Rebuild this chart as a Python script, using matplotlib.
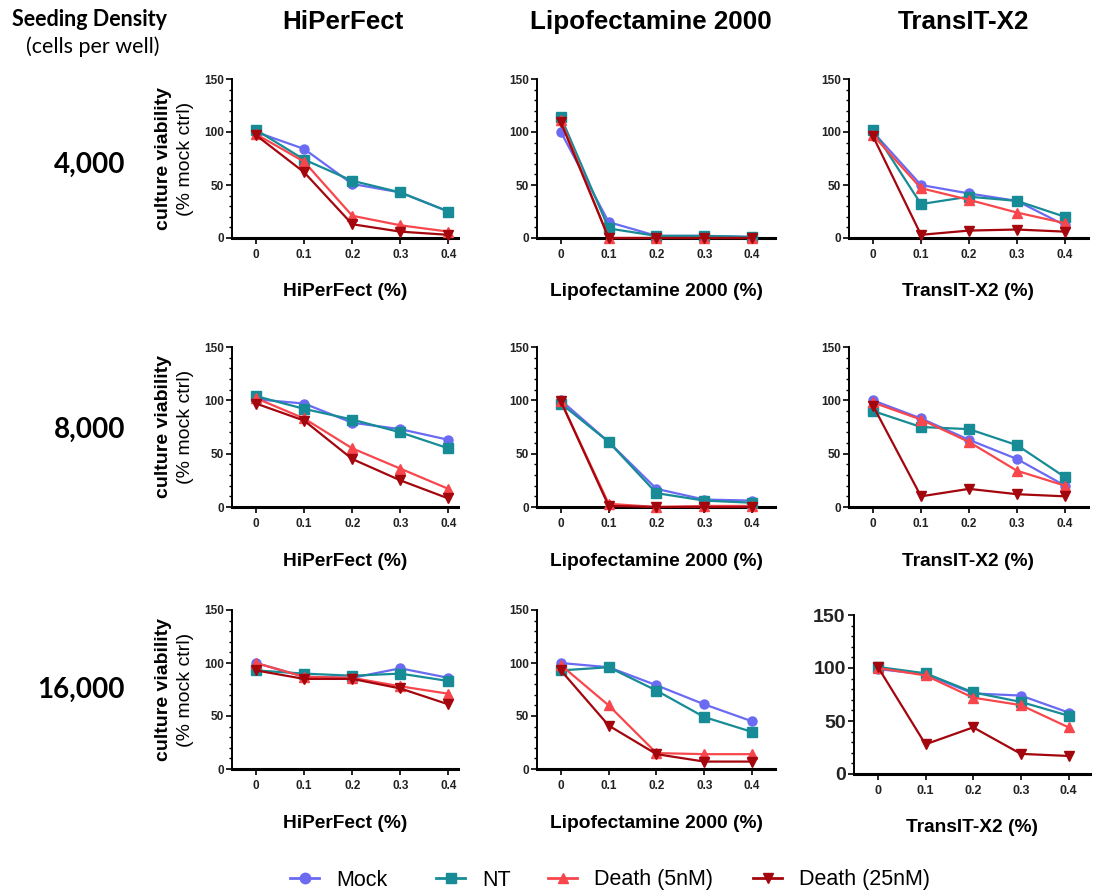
import matplotlib
matplotlib.use("Agg")
import matplotlib.pyplot as plt
from matplotlib.lines import Line2D
from matplotlib.ticker import MultipleLocator

plt.rcParams['font.family'] = ['Liberation Sans', 'DejaVu Sans']

# ---- data ----
concentrations = [0, 0.1, 0.2, 0.3, 0.4]
x_tick_labels = ["0", "0.1", "0.2", "0.3", "0.4"]
reagents = ["HiPerFect", "Lipofectamine 2000", "TransIT-X2"]
densities = ["4,000", "8,000", "16,000"]
series_names = ["Mock", "NT", "Death (5nM)", "Death (25nM)"]

# row: 4,000
d4k_hiperfect = {"Mock": [100, 84, 51, 43, 25], "NT": [102, 74, 54, 43, 25],
                 "Death (5nM)": [98, 72, 21, 12, 6], "Death (25nM)": [97, 62, 13, 6, 3]}
d4k_lipo = {"Mock": [100, 15, 2, 2, 1], "NT": [114, 9, 2, 2, 1],
            "Death (5nM)": [111, 0, 0, 0, 0], "Death (25nM)": [109, 0, 0, 0, 0]}
d4k_transit = {"Mock": [100, 50, 42, 35, 12], "NT": [102, 32, 39, 35, 20],
               "Death (5nM)": [97, 47, 36, 24, 14], "Death (25nM)": [96, 3, 7, 8, 6]}
# row: 8,000
d8k_hiperfect = {"Mock": [101, 97, 79, 73, 63], "NT": [104, 92, 82, 70, 55],
                 "Death (5nM)": [102, 83, 55, 36, 17], "Death (25nM)": [97, 81, 45, 25, 8]}
d8k_lipo = {"Mock": [100, 61, 17, 7, 6], "NT": [97, 61, 13, 6, 4],
            "Death (5nM)": [99, 3, 0, 1, 1], "Death (25nM)": [99, 1, 0, 0, 0]}
d8k_transit = {"Mock": [100, 83, 63, 45, 20], "NT": [90, 75, 73, 58, 28],
               "Death (5nM)": [98, 82, 61, 34, 20], "Death (25nM)": [95, 10, 17, 12, 10]}
# row: 16,000
d16k_hiperfect = {"Mock": [100, 87, 86, 95, 86], "NT": [93, 90, 88, 90, 83],
                  "Death (5nM)": [100, 87, 86, 78, 71], "Death (25nM)": [93, 85, 85, 76, 61]}
d16k_lipo = {"Mock": [100, 96, 79, 61, 45], "NT": [93, 96, 74, 49, 35],
             "Death (5nM)": [98, 60, 15, 14, 14], "Death (25nM)": [93, 41, 14, 7, 7]}
d16k_transit = {"Mock": [99, 94, 76, 74, 58], "NT": [101, 95, 77, 68, 55],
                "Death (5nM)": [100, 93, 72, 65, 44], "Death (25nM)": [101, 28, 44, 19, 17]}

grid = [[d4k_hiperfect, d4k_lipo, d4k_transit],
        [d8k_hiperfect, d8k_lipo, d8k_transit],
        [d16k_hiperfect, d16k_lipo, d16k_transit]]

colors = {"Mock": "#6a6af2", "NT": "#178b96", "Death (5nM)": "#f7474c", "Death (25nM)": "#a3060d"}
markers = {"Mock": "o", "NT": "s", "Death (5nM)": "^", "Death (25nM)": "v"}

# ---- layout (pixel geometry) ----
W, H = 1093, 892
fig = plt.figure(figsize=(W / 100, H / 100), dpi=100)

def fx(x):
    return x / W

def fy(y):
    return 1 - y / H

col_left = [232, 537, 849]
col_right = [458, 775, 1088]
row_top = [79, 347, 610]
row_bot = [238, 507, 769]
xlim_right = [0.42, 0.448, 0.448]

for r in range(3):
    for c in range(3):
        left, right = col_left[c], col_right[c]
        top, bot = row_top[r], row_bot[r]
        big = (r == 2 and c == 2)
        if big:
            left, right, top, bot = 854, 1090, 615, 774
        ax = fig.add_axes([fx(left), fy(bot), (right - left) / W, (bot - top) / H])
        data = grid[r][c]
        for name in series_names:
            ax.plot(concentrations, data[name], color=colors[name], marker=markers[name],
                    markersize=6.5, linewidth=1.6, clip_on=False, zorder=3)
        ax.set_xlim(-0.05, xlim_right[c] if not big else 0.445)
        ax.set_ylim(0, 150)
        ax.set_xticks(concentrations)
        ax.set_xticklabels(x_tick_labels)
        ax.set_yticks([0, 50, 100, 150])
        ax.yaxis.set_minor_locator(MultipleLocator(10))
        for s in ["top", "right"]:
            ax.spines[s].set_visible(False)
        ax.spines["left"].set_linewidth(1.4)
        ax.spines["bottom"].set_linewidth(2.2)
        ax.spines["left"].set_bounds(0, 150)
        ysize = 14 if big else 8.5
        ax.tick_params(axis="y", which="major", length=4, width=1.2, labelsize=ysize, pad=2)
        ax.tick_params(axis="y", which="minor", length=2, width=1.0)
        ax.tick_params(axis="x", which="major", length=4, width=1.2,
                       labelsize=9 if big else 8.5, pad=4)
        for lab in ax.get_xticklabels() + ax.get_yticklabels():
            lab.set_fontweight("bold")
            lab.set_color("#222222")
        ax.set_xlabel(reagents[c] + " (%)", fontsize=13.8, fontweight="bold")
        ax.xaxis.set_label_coords(0.5, -54 / (bot - top))
        ax.xaxis.label.set_va("center")

# column titles
title_x = [343, 651, 963]
for c in range(3):
    fig.text(fx(title_x[c]), fy(22), reagents[c], ha="center", va="center",
             fontsize=18.7, fontweight="bold")

# row labels
row_label_y = [165, 430, 690]
for r in range(3):
    fig.text(fx(125), fy(row_label_y[r]), densities[r], ha="right", va="center",
             fontsize=20, fontweight="bold", family=["Lato", "DejaVu Sans"])
    yc = (row_top[r] + row_bot[r]) / 2
    fig.text(fx(163), fy(yc), "culture viability", rotation=90, ha="center", va="center",
             fontsize=14, fontweight="bold")
    fig.text(fx(185), fy(yc), "(% mock ctrl)", rotation=90, ha="center", va="center",
             fontsize=14)

fig.text(fx(89), fy(20), "Seeding Density", ha="center", va="center",
         fontsize=15.5, fontweight="bold", family=["Lato", "DejaVu Sans"])
fig.text(fx(93), fy(47), "(cells per well)", ha="center", va="center",
         fontsize=15.5, family=["Lato", "DejaVu Sans"])

# legend: one entry per series, placed at the reference positions
legend_x = [290, 436, 548, 753]
for name, lx in zip(series_names, legend_x):
    h = Line2D([0], [0], color=colors[name], marker=markers[name], markersize=7.5, linewidth=2.0)
    fig.legend([h], [name], loc="center left", bbox_to_anchor=(fx(lx), fy(880)),
               frameon=False, fontsize=15.5, handlelength=1.35, handletextpad=0.8,
               borderpad=0, borderaxespad=0)

fig.savefig("out.png", dpi=100)
